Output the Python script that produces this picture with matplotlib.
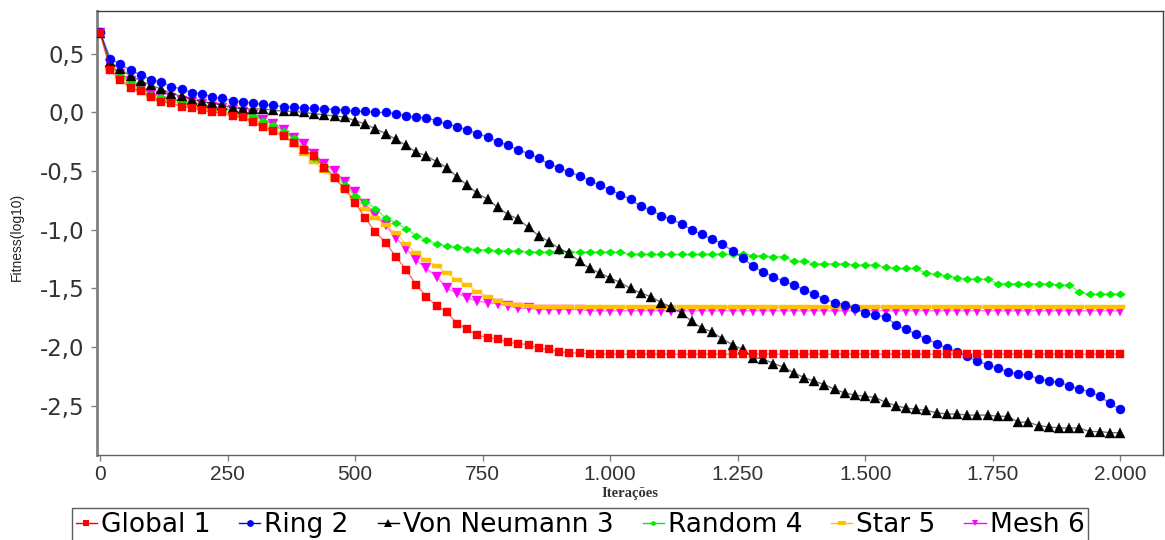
import matplotlib
matplotlib.use("Agg")
import matplotlib.pyplot as plt
from matplotlib.path import Path
from matplotlib.lines import Line2D
from matplotlib.ticker import FuncFormatter, FixedLocator

# iterations (a point every 20 iterations)
iteracoes = list(range(0, 2001, 20))

global_1 = [
    0.68, 0.36, 0.28, 0.21, 0.18, 0.13, 0.09, 0.08, 0.05, 0.04,
    0.02, 0.00, 0.00, -0.03, -0.04, -0.08, -0.12, -0.16, -0.20, -0.26,
    -0.32, -0.37, -0.47, -0.56, -0.65, -0.77, -0.90, -1.02, -1.11, -1.23,
    -1.34, -1.47, -1.57, -1.65, -1.70, -1.80, -1.85, -1.90, -1.92, -1.93,
    -1.96, -1.97, -1.98, -2.01, -2.02, -2.04, -2.05, -2.05, -2.06, -2.06,
    -2.06, -2.06, -2.06, -2.06, -2.06, -2.06, -2.06, -2.06, -2.06, -2.06,
    -2.06, -2.06, -2.06, -2.06, -2.06, -2.06, -2.06, -2.06, -2.06, -2.06,
    -2.06, -2.06, -2.06, -2.06, -2.06, -2.06, -2.06, -2.06, -2.06, -2.06,
    -2.06, -2.06, -2.06, -2.06, -2.06, -2.06, -2.06, -2.06, -2.06, -2.06,
    -2.06, -2.06, -2.06, -2.06, -2.06, -2.06, -2.06, -2.06, -2.06, -2.06,
    -2.06]

ring_2 = [
    0.69, 0.46, 0.41, 0.36, 0.32, 0.28, 0.26, 0.22, 0.20, 0.17,
    0.16, 0.13, 0.12, 0.10, 0.09, 0.08, 0.07, 0.06, 0.05, 0.045,
    0.04, 0.035, 0.03, 0.025, 0.02, 0.01, 0.01, 0.00, 0.00, -0.01,
    -0.03, -0.04, -0.045, -0.07, -0.10, -0.12, -0.15, -0.18, -0.21, -0.25,
    -0.28, -0.32, -0.35, -0.39, -0.44, -0.47, -0.51, -0.54, -0.58, -0.62,
    -0.66, -0.70, -0.74, -0.80, -0.83, -0.88, -0.91, -0.95, -1.00, -1.04,
    -1.08, -1.12, -1.18, -1.24, -1.31, -1.36, -1.40, -1.44, -1.47, -1.51,
    -1.55, -1.59, -1.62, -1.64, -1.67, -1.71, -1.73, -1.74, -1.81, -1.85,
    -1.89, -1.93, -1.97, -2.01, -2.04, -2.08, -2.12, -2.15, -2.18, -2.21,
    -2.23, -2.24, -2.27, -2.29, -2.30, -2.33, -2.36, -2.38, -2.42, -2.48,
    -2.53]

von_neumann_3 = [
    0.68, 0.43, 0.37, 0.31, 0.27, 0.23, 0.20, 0.16, 0.14, 0.11,
    0.09, 0.08, 0.06, 0.04, 0.03, 0.03, 0.03, 0.02, 0.01, 0.01,
    0.00, -0.01, -0.02, -0.03, -0.04, -0.07, -0.10, -0.14, -0.18, -0.23,
    -0.28, -0.34, -0.37, -0.42, -0.47, -0.55, -0.62, -0.69, -0.74, -0.81,
    -0.87, -0.91, -0.98, -1.05, -1.10, -1.16, -1.20, -1.27, -1.33, -1.37,
    -1.41, -1.45, -1.50, -1.54, -1.57, -1.62, -1.66, -1.71, -1.78, -1.84,
    -1.87, -1.93, -1.98, -2.02, -2.09, -2.10, -2.14, -2.17, -2.22, -2.26,
    -2.29, -2.32, -2.36, -2.39, -2.41, -2.42, -2.43, -2.47, -2.50, -2.52,
    -2.53, -2.54, -2.56, -2.57, -2.57, -2.58, -2.58, -2.58, -2.59, -2.59,
    -2.64, -2.64, -2.67, -2.68, -2.69, -2.69, -2.69, -2.72, -2.72, -2.73,
    -2.73]

random_4 = [
    0.68, 0.40, 0.31, 0.26, 0.20, 0.15, 0.13, 0.11, 0.09, 0.08,
    0.06, 0.03, 0.03, 0.01, -0.01, -0.03, -0.07, -0.11, -0.16, -0.22,
    -0.31, -0.39, -0.46, -0.54, -0.62, -0.71, -0.76, -0.82, -0.90, -0.94,
    -0.99, -1.05, -1.09, -1.12, -1.14, -1.15, -1.16, -1.17, -1.17, -1.18,
    -1.18, -1.18, -1.19, -1.19, -1.19, -1.18, -1.19, -1.19, -1.19, -1.19,
    -1.19, -1.19, -1.21, -1.21, -1.21, -1.21, -1.21, -1.21, -1.21, -1.21,
    -1.21, -1.21, -1.21, -1.21, -1.22, -1.22, -1.23, -1.23, -1.27, -1.27,
    -1.29, -1.29, -1.29, -1.29, -1.30, -1.30, -1.30, -1.32, -1.33, -1.33,
    -1.33, -1.37, -1.38, -1.39, -1.41, -1.42, -1.42, -1.42, -1.46, -1.46,
    -1.46, -1.46, -1.46, -1.46, -1.47, -1.47, -1.53, -1.55, -1.55, -1.55,
    -1.55]

star_5 = [
    0.68, 0.38, 0.30, 0.24, 0.19, 0.14, 0.11, 0.10, 0.07, 0.06,
    0.04, 0.02, 0.01, -0.01, -0.03, -0.06, -0.10, -0.14, -0.19, -0.28,
    -0.35, -0.42, -0.50, -0.57, -0.65, -0.73, -0.82, -0.90, -0.96, -1.03,
    -1.12, -1.20, -1.26, -1.31, -1.37, -1.43, -1.47, -1.53, -1.57, -1.61,
    -1.63, -1.64, -1.65, -1.66, -1.66, -1.66, -1.66, -1.66, -1.66, -1.66,
    -1.66, -1.66, -1.66, -1.66, -1.66, -1.66, -1.66, -1.66, -1.66, -1.66,
    -1.66, -1.66, -1.66, -1.66, -1.66, -1.66, -1.66, -1.66, -1.66, -1.66,
    -1.66, -1.66, -1.66, -1.66, -1.66, -1.66, -1.66, -1.66, -1.66, -1.66,
    -1.66, -1.66, -1.66, -1.66, -1.66, -1.66, -1.66, -1.66, -1.66, -1.66,
    -1.66, -1.66, -1.66, -1.66, -1.66, -1.66, -1.66, -1.66, -1.66, -1.66,
    -1.66]

mesh_6 = [
    0.68, 0.41, 0.33, 0.27, 0.21, 0.16, 0.14, 0.12, 0.10, 0.09,
    0.07, 0.05, 0.04, 0.02, 0.00, -0.02, -0.06, -0.10, -0.15, -0.22,
    -0.27, -0.35, -0.44, -0.50, -0.59, -0.68, -0.78, -0.87, -0.96, -1.07,
    -1.16, -1.26, -1.33, -1.40, -1.50, -1.54, -1.58, -1.61, -1.62, -1.63,
    -1.65, -1.67, -1.67, -1.68, -1.68, -1.68, -1.68, -1.68, -1.69, -1.69,
    -1.69, -1.69, -1.69, -1.69, -1.69, -1.69, -1.69, -1.69, -1.69, -1.69,
    -1.69, -1.69, -1.69, -1.69, -1.69, -1.69, -1.69, -1.69, -1.69, -1.69,
    -1.69, -1.69, -1.69, -1.69, -1.69, -1.69, -1.69, -1.69, -1.69, -1.69,
    -1.69, -1.69, -1.69, -1.69, -1.69, -1.69, -1.69, -1.69, -1.69, -1.69,
    -1.69, -1.69, -1.69, -1.69, -1.69, -1.69, -1.69, -1.69, -1.69, -1.69,
    -1.69]

names = ['Global 1', 'Ring 2', 'Von Neumann 3', 'Random 4', 'Star 5', 'Mesh 6']
x_ticks = [0, 250, 500, 750, 1000, 1250, 1500, 1750, 2000]
y_ticks = [0.5, 0.0, -0.5, -1.0, -1.5, -2.0, -2.5]

# wide marker shapes (the chart is a bit stretched horizontally)
bar_marker = Path([(-1, -0.42), (1, -0.42), (1, 0.42), (-1, 0.42), (-1, -0.42)],
                  [Path.MOVETO, Path.LINETO, Path.LINETO, Path.LINETO, Path.CLOSEPOLY])
diamond_marker = Path([(0, -0.75), (1, 0), (0, 0.75), (-1, 0), (0, -0.75)],
                      [Path.MOVETO, Path.LINETO, Path.LINETO, Path.LINETO, Path.CLOSEPOLY])

styles = [
    ('#ff0000', 's', 6.0),
    ('#0000ff', 'o', 6.5),
    ('#000000', '^', 7.0),
    ('#00ee00', diamond_marker, 7.0),
    ('#ffc000', bar_marker, 7.5),
    ('#ff00ff', 'v', 6.5),
]
series = [global_1, ring_2, von_neumann_3, random_4, star_5, mesh_6]

fig = plt.figure(figsize=(11.65, 5.4), dpi=100)
ax = fig.add_axes([97 / 1165, 1 - 455 / 540, 1066 / 1165, 444 / 540])

handles = []
for k, (vals, (c, m, ms)) in enumerate(zip(series, styles)):
    rgba = matplotlib.colors.to_rgba(c, 0.55)
    ax.plot(iteracoes, vals, color=rgba, lw=1.0, marker=m, ms=ms,
            markerfacecolor=c, markeredgecolor=c, markeredgewidth=0.3,
            zorder=10 - k)
    handles.append(Line2D([], [], color=c, lw=1.0, marker=m, ms=ms * 0.75,
                          markerfacecolor=c, markeredgewidth=0))

ax.set_xlim(-6, 2084)
ax.set_ylim(-2.92, 0.865)

ax.xaxis.set_major_locator(FixedLocator(x_ticks))
ax.yaxis.set_major_locator(FixedLocator(y_ticks))
ax.xaxis.set_major_formatter(FuncFormatter(lambda v, p: f"{int(v):,}".replace(',', '.')))
ax.yaxis.set_major_formatter(FuncFormatter(lambda v, p: f"{v:.1f}".replace('.', ',')))

ax.tick_params(axis='both', direction='out', length=4, width=1, color='#808080')
ax.tick_params(axis='y', labelsize=16.5, pad=5)
ax.tick_params(axis='x', labelsize=15, pad=3)
for lab in ax.get_yticklabels():
    lab.set_family('DejaVu Sans')
    lab.set_color('#333333')
for lab in ax.get_xticklabels():
    lab.set_family('Liberation Sans')
    lab.set_color('#333333')

for s in ax.spines.values():
    s.set_color('#404040')
    s.set_linewidth(1.0)
ax.spines['left'].set_linewidth(2.0)
ax.spines['left'].set_color('#808080')
ax.spines['bottom'].set_color('#606060')

fig.text(17 / 1165, 1 - 237 / 540, 'Fitness(log10)', rotation=90, va='center', ha='center',
         fontsize=10, family=['Liberation Sans Narrow', 'Liberation Sans'], color='#222222')
fig.text(630 / 1165, 1 - 494 / 540, 'Iterações', va='center', ha='center',
         fontsize=10.5, family='Liberation Serif', fontweight='bold', color='#333333')

leg = fig.legend(handles, names, loc='upper center', bbox_to_anchor=(580 / 1165, 1 - 508 / 540),
                 ncol=6, frameon=True, fancybox=False, borderaxespad=0, borderpad=0.15,
                 handlelength=0.8, handletextpad=0.15, columnspacing=1.1,
                 prop={'family': 'DejaVu Sans', 'size': 19})
leg.get_frame().set_edgecolor('#333333')
leg.get_frame().set_linewidth(1.0)

fig.savefig('out.png', dpi=100)
